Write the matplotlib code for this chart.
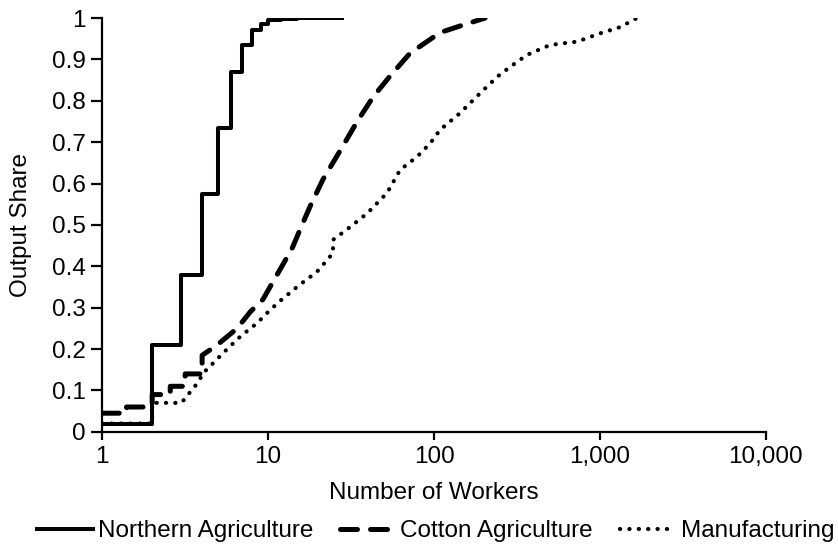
import numpy as np
import matplotlib
matplotlib.use('Agg')
import matplotlib.pyplot as plt

plt.rcParams['font.family'] = ['Liberation Sans', 'DejaVu Sans']

# Northern Agriculture (step function)
north_x = [1, 2, 3, 4, 5, 6, 7, 8, 9, 10, 12, 15, 20, 28]
north_y = [0.02, 0.21, 0.38, 0.575, 0.735, 0.87, 0.935, 0.97, 0.985, 0.995, 0.998, 1.0, 1.0, 1.0]

# Cotton Agriculture
cotton_x = [1, 1.4, 1.4, 2, 2, 2.57, 2.57, 3.16, 3.16, 4, 4, 4.93, 6.5, 7.8, 9.3, 10.6, 12.1,
            14, 16, 17.9, 21.4, 27.2, 34.4, 43, 54.3, 71.6, 108.7, 154, 203]
cotton_y = [0.045, 0.045, 0.06, 0.06, 0.09, 0.09, 0.11, 0.11, 0.14, 0.14, 0.185, 0.21, 0.25, 0.29,
            0.32, 0.36, 0.40, 0.445, 0.50, 0.545, 0.61, 0.68, 0.75, 0.81, 0.86, 0.915, 0.965,
            0.985, 1.0]

# Manufacturing
manuf_x = [1, 2, 2, 3, 3.79, 4.06, 4.66, 5.66, 6.78, 8.59, 10.3, 12.1, 15, 19.7, 24.6, 24.6,
           31.2, 39.5, 52, 62.4, 79, 94.6, 108.7, 143, 189, 240, 287, 363, 500, 727, 1000,
           1320, 1670]
manuf_y = [0.02, 0.02, 0.07, 0.07, 0.12, 0.142, 0.166, 0.2, 0.23, 0.263, 0.295, 0.32, 0.351,
           0.387, 0.432, 0.464, 0.495, 0.528, 0.577, 0.633, 0.665, 0.697, 0.73, 0.77, 0.818,
           0.858, 0.882, 0.911, 0.935, 0.943, 0.963, 0.978, 1.0]

fs = 17.5

fig = plt.figure(figsize=(8.38, 5.48), dpi=100)
ax = fig.add_axes([0.122, 0.212, 0.792, 0.755])

ax.plot(north_x, north_y, color='black', lw=2.9, drawstyle='steps-post',
        label='Northern Agriculture')
ax.plot(cotton_x, cotton_y, color='black', lw=3.6, linestyle=(0, (3.4, 2.6)),
        solid_capstyle='round', dash_capstyle='round', label='Cotton Agriculture')
ax.plot(manuf_x, manuf_y, color='black', lw=3.0, linestyle=(0, (0.05, 2.2)),
        dash_capstyle='round', label='Manufacturing')

ax.set_xscale('log')
ax.set_xlim(1, 10000)
ax.set_ylim(0, 1)
ax.set_xticks([1, 10, 100, 1000, 10000])
ax.set_xticklabels(['1', '10', '100', '1,000', '10,000'])
ax.minorticks_off()
ax.set_yticks(np.arange(0, 1.01, 0.1))
ax.set_yticklabels(['0'] + ['%.1f' % v for v in np.arange(0.1, 0.95, 0.1)] + ['1'])

for s in ['top', 'right']:
    ax.spines[s].set_visible(False)
for s in ['left', 'bottom']:
    ax.spines[s].set_linewidth(1.6)
ax.tick_params(axis='x', direction='out', length=6, width=1.6, labelsize=fs, pad=4)
ax.tick_params(axis='y', direction='out', length=8, width=1.6, labelsize=fs, pad=4)

ax.set_xlabel('Number of Workers', fontsize=fs, labelpad=10)
ax.set_ylabel('Output Share', fontsize=fs, labelpad=14)

ax.legend(loc='upper center', bbox_to_anchor=(0.502, -0.19), ncol=3, frameon=False,
          fontsize=fs, handlelength=2.3, handletextpad=0.2, columnspacing=1.1,
          borderaxespad=0)

fig.savefig('out.png', dpi=100)
